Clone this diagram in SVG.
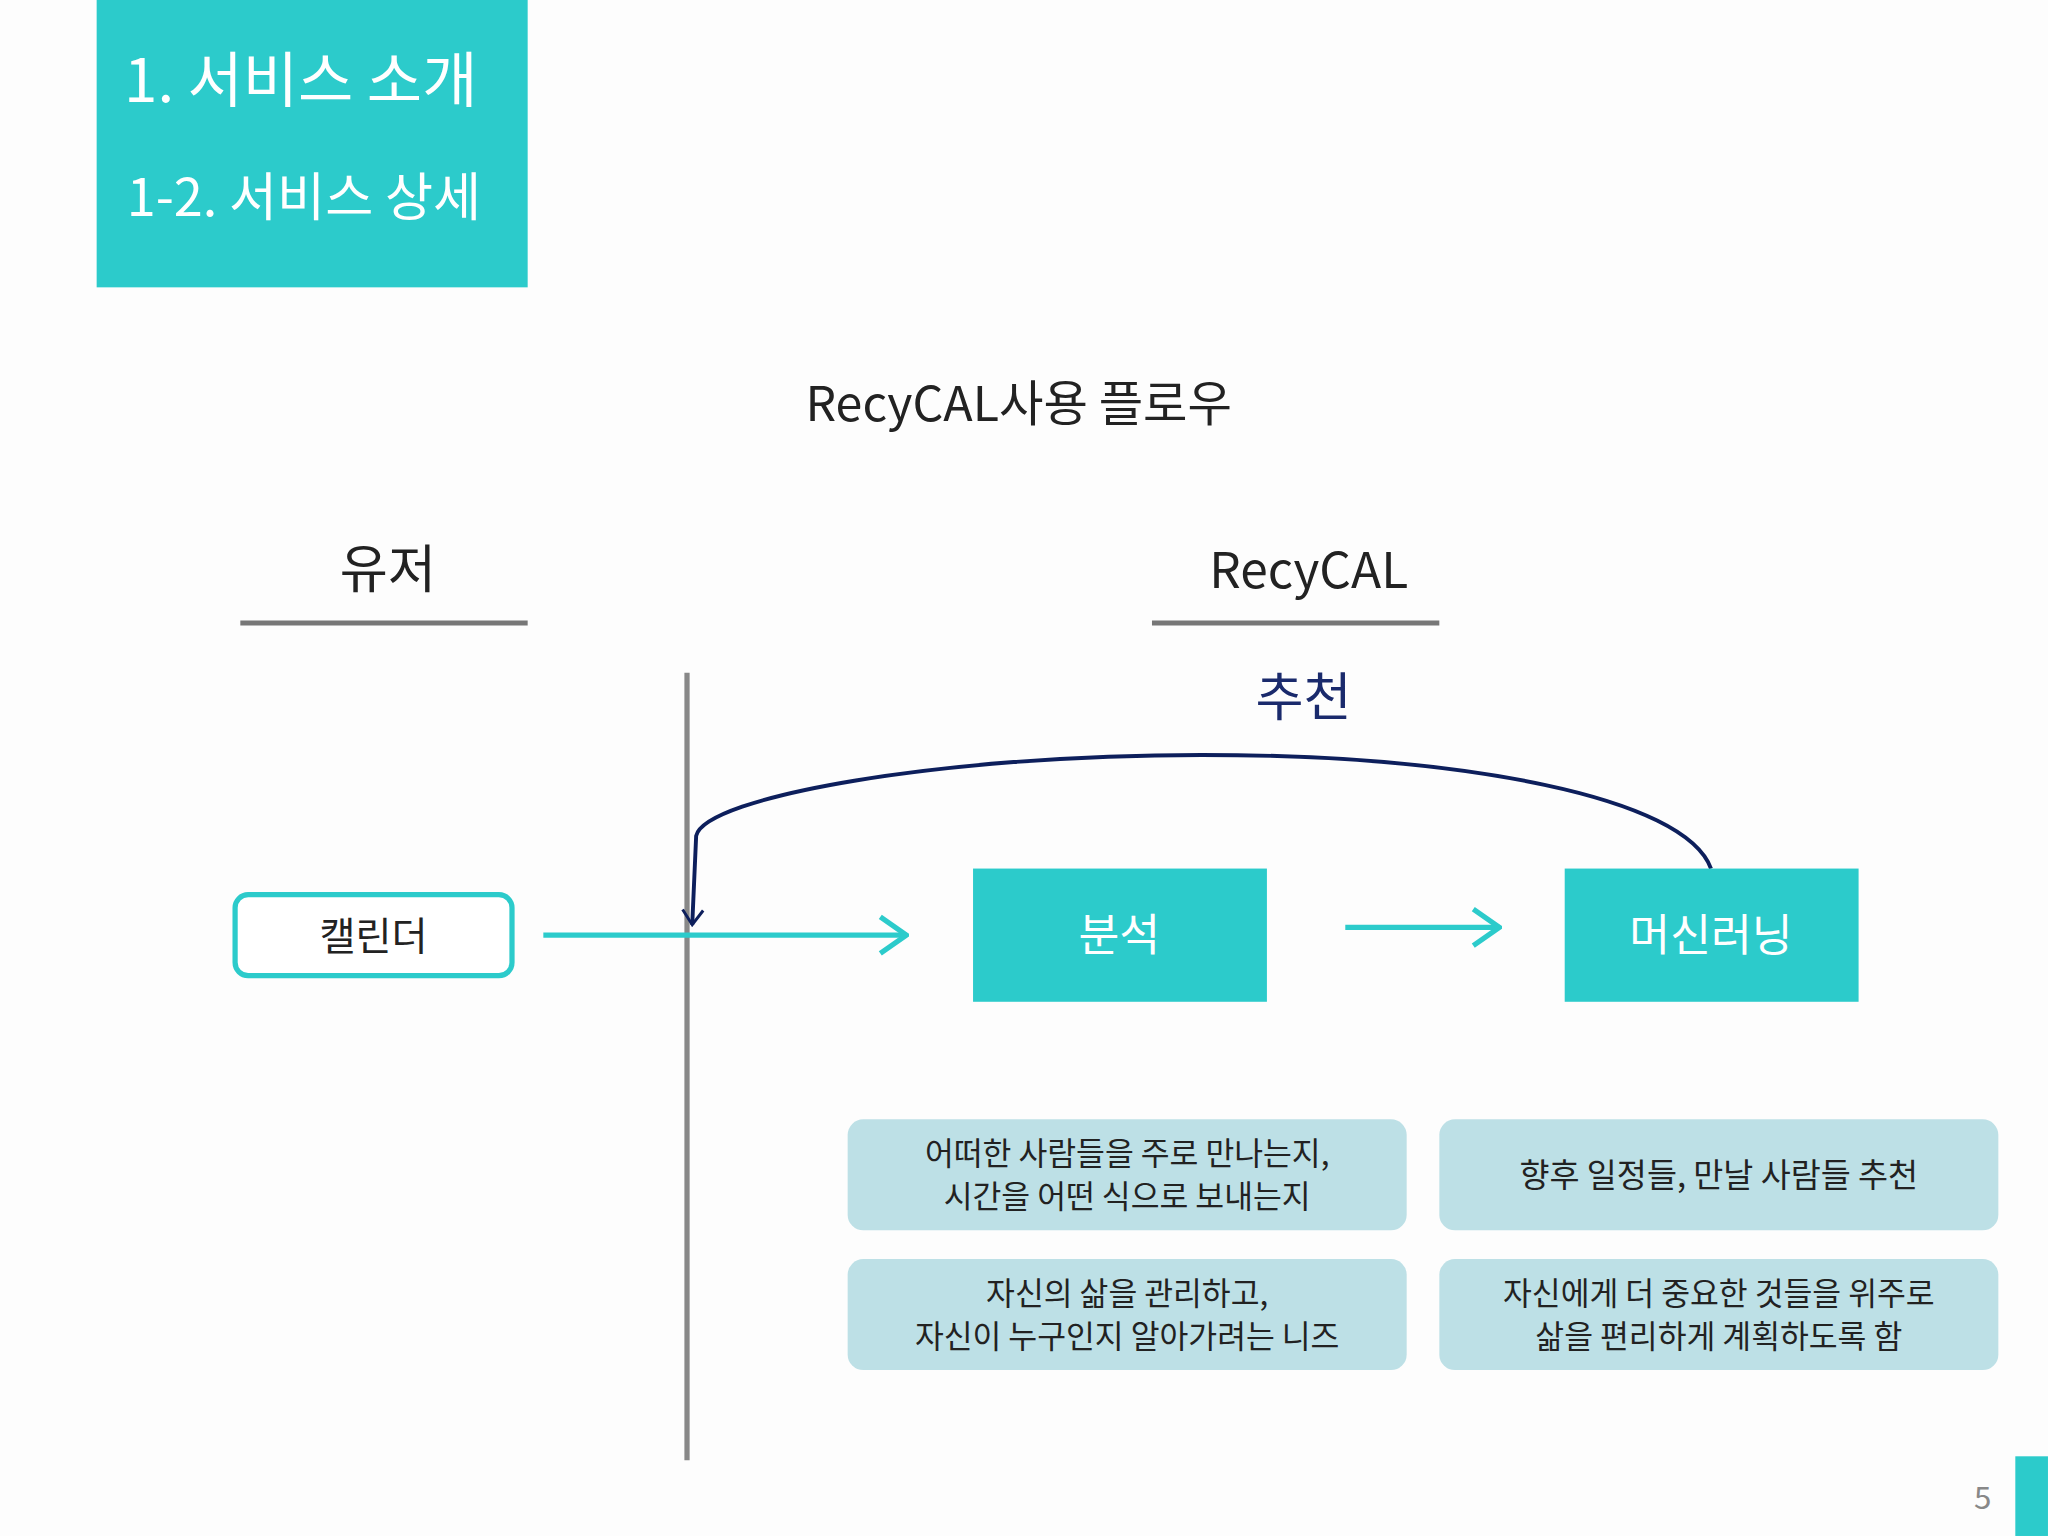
<svg xmlns="http://www.w3.org/2000/svg" width="2048" height="1536" viewBox="0 0 2048 1536">
<style>
text{font-family:"Noto Sans CJK KR","Noto Sans",sans-serif}
.w{fill:#fff}
.k{fill:#222}
.teal{fill:#2ccbcb}
.lb{fill:#bde0e6}
.ar{fill:none;stroke:#2ccbcb;stroke-width:4}
</style>
<defs>
<marker id="ah" viewBox="0 0 12 16" refX="11" refY="8" markerWidth="6" markerHeight="8" orient="auto" markerUnits="strokeWidth"><path d="M1 1L11 8L1 15" fill="none" stroke="#2ccbcb" stroke-width="2"/></marker>
<marker id="nh" viewBox="0 0 12 16" refX="11" refY="8" markerWidth="5" markerHeight="6" orient="auto" markerUnits="strokeWidth"><path d="M1 1L11 8L1 15" fill="none" stroke="#0d1f5c" stroke-width="2"/></marker>
</defs>
<rect width="2048" height="1536" fill="#fdfdfd"/>
<g transform="scale(1.3061)">
<g id="header"><rect x="74" y="0" width="330" height="220" class="teal"/>
<text x="95" y="78" font-size="46" class="w">1. 서비스 소개</text>
<text x="97" y="165" font-size="40" class="w">1-2. 서비스 상세</text></g>
<text x="780" y="322" font-size="37" text-anchor="middle" class="k">RecyCAL사용 플로우</text>
<g id="user-col"><text x="297" y="450" font-size="40" text-anchor="middle" class="k">유저</text>
<line x1="184" y1="477" x2="404" y2="477" stroke="#777" stroke-width="4"/></g>
<g id="recycal-col"><text x="1002" y="450" font-size="38" text-anchor="middle" class="k">RecyCAL</text>
<line x1="882" y1="477" x2="1102" y2="477" stroke="#777" stroke-width="4"/></g>
<line x1="526" y1="515" x2="526" y2="1118" stroke="#888" stroke-width="4"/>
<g id="connectors">
<line x1="416" y1="716" x2="694" y2="716" class="ar" marker-end="url(#ah)"/>
<line x1="1030" y1="710" x2="1148" y2="710" class="ar" marker-end="url(#ah)"/>
<path d="M1310 665C1290 610 1120 578 920 578C720 578 540 610 533 640L530 708" fill="none" stroke="#0d1f5c" stroke-width="3" marker-end="url(#nh)"/>
<text x="998" y="548" font-size="40" text-anchor="middle" fill="#1a2a6c">추천</text>
</g>
<g id="calendar"><rect x="180" y="685" width="212" height="62" rx="10" fill="#fff" stroke="#2ccbcb" stroke-width="4"/>
<text x="286" y="727" font-size="30" text-anchor="middle" class="k">캘린더</text></g>
<g id="analysis"><rect x="745" y="665" width="225" height="102" class="teal"/>
<text x="857" y="728" font-size="34" text-anchor="middle" class="w">분석</text></g>
<g id="ml"><rect x="1198" y="665" width="225" height="102" class="teal"/>
<text x="1310" y="728" font-size="34" text-anchor="middle" class="w">머신러닝</text></g>
<g id="b1"><rect x="649" y="857" width="428" height="85" rx="12" class="lb"/>
<text x="863" y="892" font-size="24" text-anchor="middle" class="k">어떠한 사람들을 주로 만나는지,</text>
<text x="863" y="925" font-size="24" text-anchor="middle" class="k">시간을 어떤 식으로 보내는지</text></g>
<g id="b2"><rect x="1102" y="857" width="428" height="85" rx="12" class="lb"/>
<text x="1316" y="909" font-size="25" text-anchor="middle" class="k">향후 일정들, 만날 사람들 추천</text></g>
<g id="b3"><rect x="649" y="964" width="428" height="85" rx="12" class="lb"/>
<text x="863" y="999" font-size="24" text-anchor="middle" class="k">자신의 삶을 관리하고,</text>
<text x="863" y="1032" font-size="24" text-anchor="middle" class="k">자신이 누구인지 알아가려는 니즈</text></g>
<g id="b4"><rect x="1102" y="964" width="428" height="85" rx="12" class="lb"/>
<text x="1316" y="999" font-size="24" text-anchor="middle" class="k">자신에게 더 중요한 것들을 위주로</text>
<text x="1316" y="1032" font-size="24" text-anchor="middle" class="k">삶을 편리하게 계획하도록 함</text></g>
<text x="1518" y="1155" font-size="24" text-anchor="middle" fill="#888">5</text>
<rect x="1543" y="1115" width="25" height="61" class="teal"/>
</g>
</svg>
